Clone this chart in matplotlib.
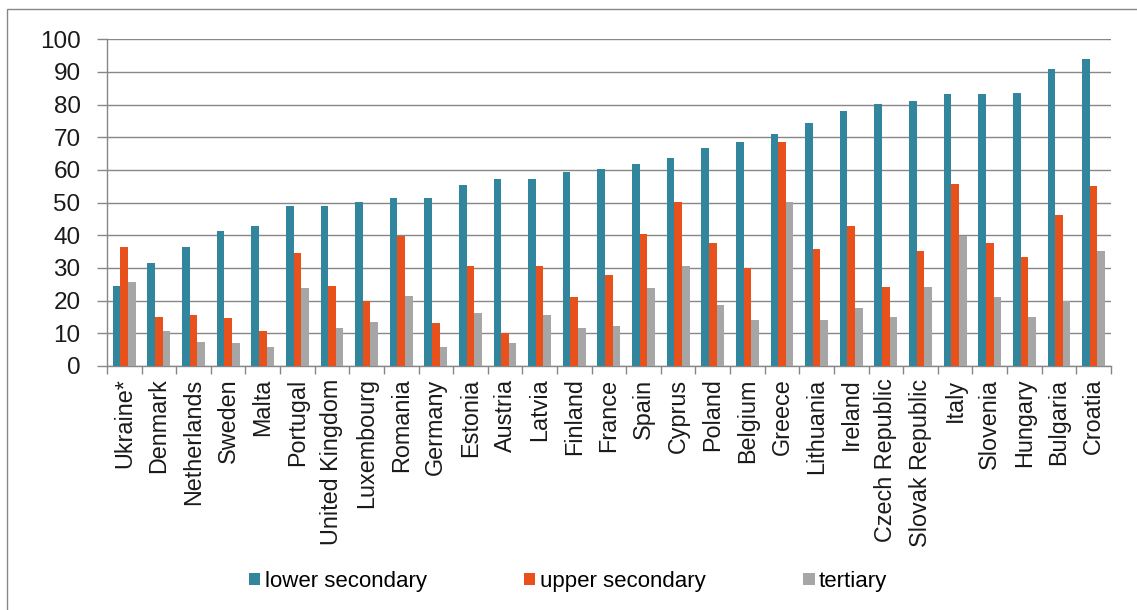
import matplotlib
matplotlib.use("Agg")

import matplotlib.pyplot as plt
import numpy as np
from matplotlib.patches import Patch, Rectangle

countries = [
    "Ukraine*", "Denmark", "Netherlands", "Sweden", "Malta", "Portugal",
    "United Kingdom", "Luxembourg", "Romania", "Germany", "Estonia", "Austria",
    "Latvia", "Finland", "France", "Spain", "Cyprus", "Poland", "Belgium",
    "Greece", "Lithuania", "Ireland", "Czech Republic", "Slovak Republic",
    "Italy", "Slovenia", "Hungary", "Bulgaria", "Croatia",
]
lower_secondary = [
    24.5, 31.6, 36.5, 41.3, 42.9, 49.1, 49.1, 50.1, 51.5, 51.5, 55.4, 57.3,
    57.3, 59.3, 60.2, 61.7, 63.8, 66.6, 68.6, 71.0, 74.5, 77.9, 80.2, 81.2,
    83.2, 83.2, 83.7, 91.0, 93.9,
]
upper_secondary = [
    36.5, 15.1, 15.6, 14.6, 10.7, 34.5, 24.5, 19.9, 39.8, 13.3, 30.7, 10.2,
    30.7, 21.0, 27.9, 40.3, 50.1, 37.6, 30.1, 68.7, 35.7, 42.9, 24.1, 35.2,
    55.6, 37.6, 33.3, 46.2, 55.1,
]
tertiary = [
    25.8, 10.7, 7.4, 6.9, 5.9, 23.8, 11.7, 13.6, 21.5, 5.9, 16.1, 6.9,
    15.6, 11.7, 12.2, 24.0, 30.7, 18.6, 14.1, 50.1, 14.1, 17.7, 15.1, 24.1,
    39.8, 21.0, 15.1, 19.9, 35.2,
]
series_names = ["lower secondary", "upper secondary", "tertiary"]
colors = ["#31859c", "#e8501c", "#a6a6a6"]

plt.rcParams["font.family"] = ["Liberation Sans", "DejaVu Sans"]
grid_color = "#878787"

fig = plt.figure(figsize=(11.37, 6.10), dpi=100)
ax = fig.add_axes([0.0941, 0.4, 0.8829, 0.5356])

x = np.arange(len(countries))
w = 0.22
for i, (vals, c) in enumerate(zip([lower_secondary, upper_secondary, tertiary], colors)):
    ax.bar(x + (i - 1) * w, vals, width=w, color=c, linewidth=0, zorder=3)

ax.set_xlim(-0.5, len(countries) - 0.5)
ax.set_ylim(0, 100)
ax.set_yticks(np.arange(0, 101, 10))
ax.yaxis.grid(True, color=grid_color, linewidth=1.0, zorder=0)
ax.set_axisbelow(True)

# category labels at centres, tick marks between groups
ax.set_xticks(x)
ax.set_xticklabels(countries, rotation=90, fontsize=16.8, color="#1a1a1a")
ax.tick_params(axis="x", which="major", length=0, pad=9)
ax.set_xticks(np.arange(-0.5, len(countries), 1.0), minor=True)
ax.tick_params(axis="x", which="minor", length=6, width=1.0, color=grid_color)
ax.tick_params(axis="y", length=7, width=1.0, color=grid_color, pad=12,
               labelsize=17.5, labelcolor="#1a1a1a")

for side in ["top", "right"]:
    ax.spines[side].set_visible(False)
for side in ["left", "bottom"]:
    ax.spines[side].set_color(grid_color)
    ax.spines[side].set_linewidth(1.0)

handles = [Patch(facecolor=c, edgecolor="none") for c in colors]
fig.legend(handles, series_names, loc="center left", bbox_to_anchor=(0.219, 0.047),
           ncol=3, frameon=False, fontsize=16, handlelength=0.5, handleheight=0.5,
           handletextpad=0.2, columnspacing=4.4, borderaxespad=0, borderpad=0)

# outer chart frame
fig.patches.append(Rectangle((7 / 1137, -0.05), 1.2, 1.05 - 9 / 610,
                             transform=fig.transFigure, fill=False,
                             edgecolor=grid_color, linewidth=1.0))

fig.savefig("out.png", dpi=100)
